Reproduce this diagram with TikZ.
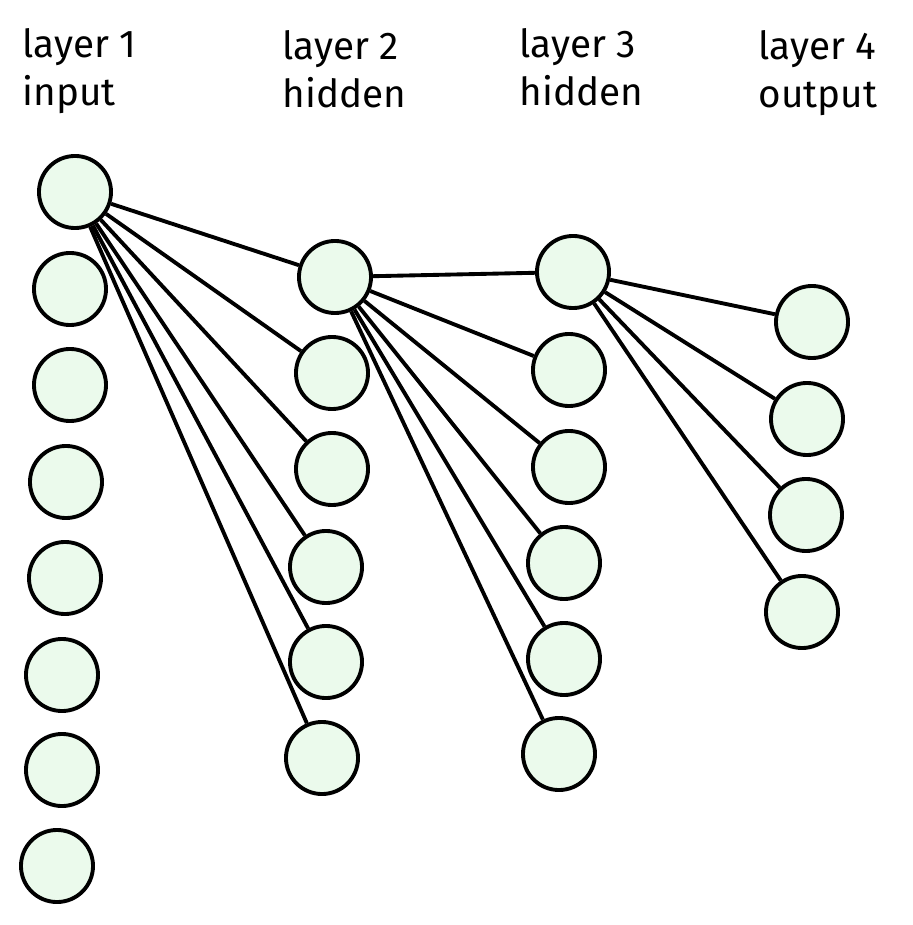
\documentclass[tikz,border=0pt]{standalone}
\usepackage{fontspec}
\setmainfont{Fira Sans}
\definecolor{nodefill}{HTML}{EBFAEC}
\tikzset{
  neuron/.style={circle, draw=black, line width=1.1pt, fill=nodefill, minimum size=0.72cm, inner sep=0pt},
  link/.style={line width=1.1pt},
  caption/.style={align=left, anchor=north west, inner sep=0pt, font=\fontsize{11}{13.5}\selectfont}
}
\begin{document}
\begin{tikzpicture}[x=0.01cm, y=-0.01cm]
	\useasboundingbox (0,0) rectangle (912,925);

	% captions
	\node[caption] (t1) at (22,28) {layer 1\\input};
	\node[caption] (t2) at (282,30) {layer 2\\hidden};
	\node[caption] (t3) at (519,28) {layer 3\\hidden};
	\node[caption] (t4) at (758,30) {layer 4\\output};

	% layer 1
	\foreach \i/\x/\y in {1/75/192, 2/70/289, 3/70/385, 4/66/482, 5/65/578, 6/62/675, 7/62/770, 8/57/866}
		\node[neuron] (a\i) at (\x,\y) {};
	% layer 2
	\foreach \i/\x/\y in {1/335/277, 2/332/373, 3/332/469, 4/326/567, 5/326/662, 6/322/758}
		\node[neuron] (b\i) at (\x,\y) {};
	% layer 3
	\foreach \i/\x/\y in {1/573/272, 2/569/370, 3/569/467, 4/564/563, 5/564/659, 6/559/754}
		\node[neuron] (c\i) at (\x,\y) {};
	% layer 4
	\foreach \i/\x/\y in {1/812/322, 2/807/419, 3/806/515, 4/802/612}
		\node[neuron] (d\i) at (\x,\y) {};

	% connections
	\foreach \j in {1,...,6}
		\draw[link] (a1) -- (b\j);
	\foreach \j in {1,...,6}
		\draw[link] (b1) -- (c\j);
	\foreach \j in {1,...,4}
		\draw[link] (c1) -- (d\j);

\end{tikzpicture}
\end{document}
